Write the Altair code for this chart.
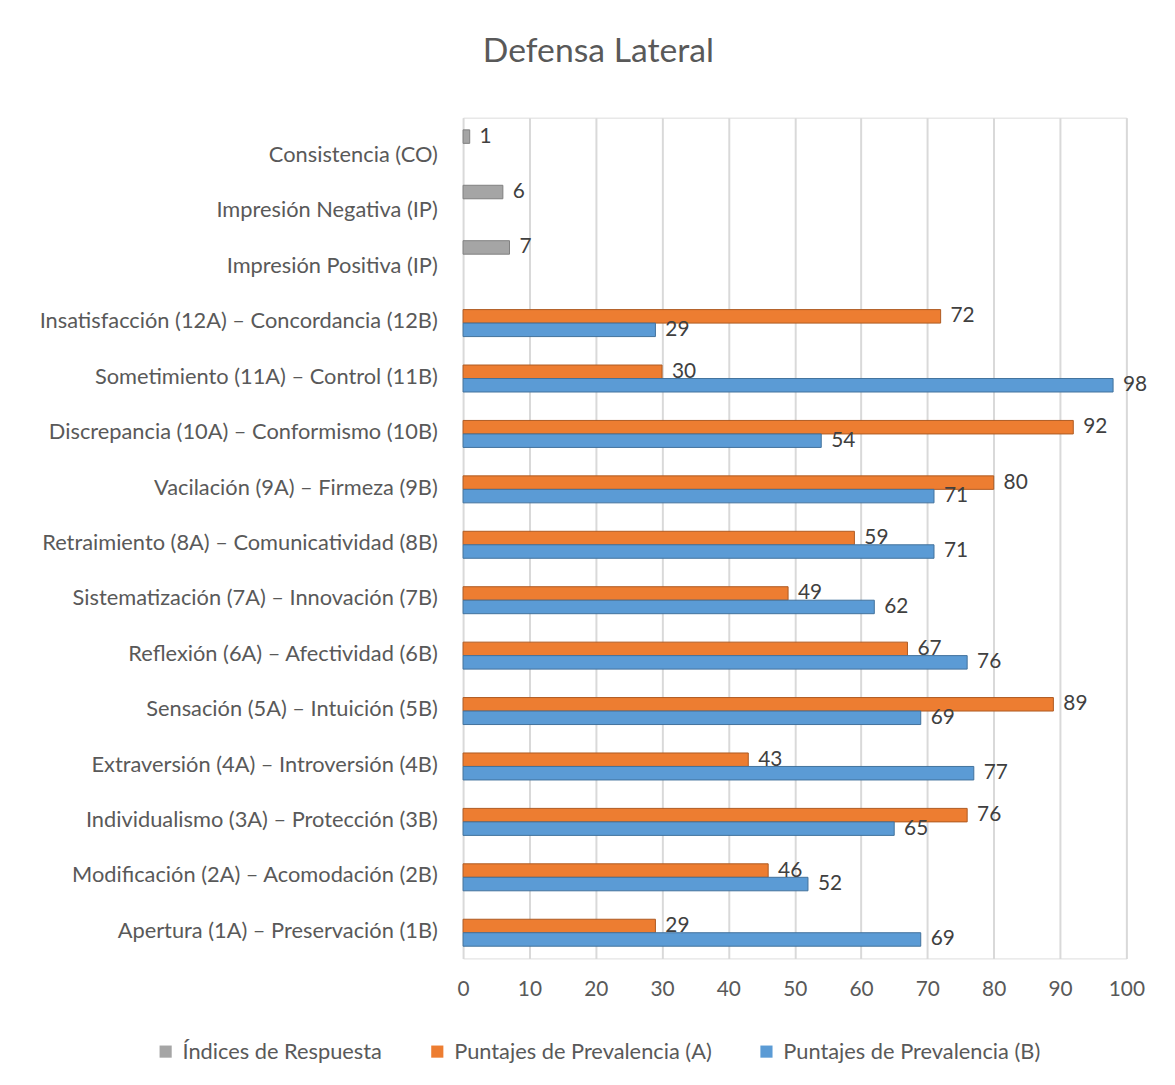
import altair as alt
import pandas as pd

categorias = [
    "Consistencia (CO)",
    "Impresión Negativa (IP)",
    "Impresión Positiva (IP)",
    "Insatisfacción (12A) – Concordancia (12B)",
    "Sometimiento  (11A) – Control (11B)",
    "Discrepancia (10A) – Conformismo (10B)",
    "Vacilación (9A) – Firmeza (9B)",
    "Retraimiento (8A) – Comunicatividad (8B)",
    "Sistematización (7A) – Innovación (7B)",
    "Reflexión (6A) – Afectividad (6B)",
    "Sensación (5A) – Intuición (5B)",
    "Extraversión (4A) – Introversión (4B)",
    "Individualismo (3A) – Protección (3B)",
    "Modificación (2A) – Acomodación (2B)",
    "Apertura (1A) – Preservación (1B)",
]
indices = [1, 6, 7, None, None, None, None, None, None, None, None, None, None, None, None]
prev_a = [None, None, None, 72, 30, 92, 80, 59, 49, 67, 89, 43, 76, 46, 29]
prev_b = [None, None, None, 29, 98, 54, 71, 71, 62, 76, 69, 77, 65, 52, 69]

series = ["Índices de Respuesta", "Puntajes de Prevalencia (A)", "Puntajes de Prevalencia (B)"]
colores = ["#A5A5A5", "#ED7D31", "#5B9BD5"]
bordes = ["#7F7F7F", "#AE5A21", "#41719C"]

rows = []
for vals, s in zip([indices, prev_a, prev_b], series):
    for c, v in zip(categorias, vals):
        if v is not None:
            rows.append({"cat": c, "serie": s, "valor": v})
df = pd.DataFrame(rows)

FONT = "Lato"

y_enc = alt.Y("cat:N", sort=categorias,
              scale=alt.Scale(paddingInner=0.27, paddingOuter=0.22),
              axis=alt.Axis(title=None, domain=False, ticks=False, grid=False,
                            labelPadding=26, labelOffset=5, labelLimit=500,
                            labelFontSize=22, labelColor="#595959", labelFont=FONT,
                            minExtent=459, maxExtent=459))
yoff_enc = alt.YOffset("serie:N", sort=series, scale=alt.Scale(domain=series, paddingInner=0, paddingOuter=0))
x_enc = alt.X("valor:Q", scale=alt.Scale(domain=[0, 100], nice=False),
              axis=alt.Axis(title=None, values=list(range(0, 101, 10)), domain=False, ticks=False,
                            grid=True, gridColor="#D9D9D9", gridWidth=2, labelFlush=False,
                            labelPadding=20, labelFontSize=21, labelColor="#595959", labelFont=FONT))

base = alt.Chart(df)

bars = base.mark_bar(strokeWidth=1).encode(
    x=x_enc,
    y=y_enc,
    yOffset=yoff_enc,
    color=alt.Color("serie:N", scale=alt.Scale(domain=series, range=colores),
                    legend=alt.Legend(title=None, orient="none", legendX=-311, legendY=931,
                                      direction="horizontal", symbolType="square", symbolSize=150,
                                      symbolStrokeWidth=0,
                                      labelFontSize=22, labelColor="#595959", labelFont=FONT,
                                      columnPadding=44, labelOffset=6, labelLimit=400)),
    stroke=alt.Stroke("serie:N", scale=alt.Scale(domain=series, range=bordes), legend=None),
)

labels = base.mark_text(align="left", baseline="middle", dx=10, fontSize=21,
                        color="#404040", font=FONT).encode(
    x="valor:Q",
    y=alt.Y("cat:N", sort=categorias),
    yOffset=alt.YOffset("serie:N", sort=series),
    text="valor:Q",
)

chart = (bars + labels).properties(
    width=669,
    height=848,
    padding={"left": 0, "top": 23, "right": 20, "bottom": 10},
    title=alt.TitleParams("Defensa Lateral", fontSize=34, color="#595959", font=FONT,
                          fontWeight="normal", anchor="middle", dx=-198, offset=49),
).configure_view(stroke=None).configure(background="white")

chart.save("out.html", embed_options={"renderer": "svg", "actions": False})
